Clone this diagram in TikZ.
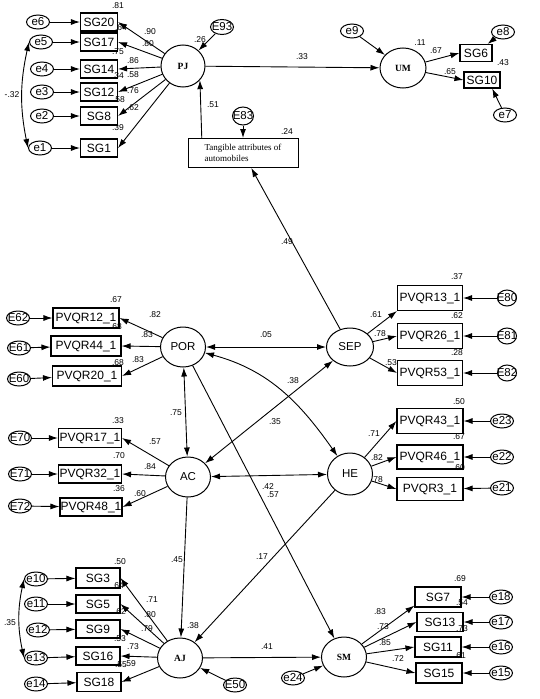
\documentclass[tikz,border=0pt]{standalone}
\usepackage{fontspec}
\setmainfont{Liberation Serif}
\setsansfont{Liberation Sans}
\usetikzlibrary{arrows.meta,shapes.geometric}

\begin{document}
\begin{tikzpicture}[x=1pt,y=-1pt]
\tikzset{obs/.style = {shape=rectangle,draw,line width=1.1pt,inner sep=0pt,
		minimum height=18pt,font=\sffamily\fontsize{12}{12}\selectfont}}
\tikzset{sg/.style = {obs,minimum width=37pt}}
\tikzset{pv/.style = {obs,minimum width=66pt,minimum height=20pt}}
\tikzset{lat/.style = {shape=ellipse,draw,line width=1pt,inner sep=0pt,
		minimum width=45pt,minimum height=40pt,font=\sffamily\fontsize{11.5}{12}\selectfont}}
\tikzset{latb/.style = {lat,font=\rmfamily\bfseries\fontsize{9.5}{10}\selectfont}}
\tikzset{err/.style = {shape=ellipse,draw,line width=1pt,inner xsep=-3pt,inner ysep=0pt,
		minimum width=23pt,minimum height=14pt,font=\sffamily\fontsize{11.5}{12}\selectfont}}
\tikzset{errc/.style = {err,inner xsep=-4pt,minimum width=19pt,minimum height=16pt}}
\tikzset{edge/.style = {->,> = {Latex[length=9pt,width=6pt]},line width=0.9pt}}
\tikzset{cov/.style = {edge,<->}}
\tikzset{coef/.style = {inner sep=0pt,font=\sffamily\fontsize{8.5}{9}\selectfont}}

\useasboundingbox (0,0) rectangle (540,699);

% vertices: PJ and UM
\node[latb,minimum width=44pt,minimum height=42pt] (PJ) at (183,66) {PJ};
\node[sg] (sg20) at (99,22) {SG20};
\node[sg] (sg17) at (99,42) {SG17};
\node[sg] (sg14) at (99,69) {SG14};
\node[sg] (sg12) at (99,92) {SG12};
\node[sg] (sg8) at (99,116) {SG8};
\node[sg] (sg1) at (99,148) {SG1};
\node[err] (e6) at (38,22) {e6};
\node[err] (e5) at (41,42) {e5};
\node[err] (e4) at (42,69) {e4};
\node[err] (e3) at (42,92) {e3};
\node[err] (e2) at (42,116) {e2};
\node[err] (e1) at (40,148) {e1};
\node[err,minimum height=15pt] (E93) at (222,27) {E93};
\node[latb,minimum width=46pt] (UM) at (403,68) {UM};
\node[err] (e9) at (352,31) {e9};
\node[obs,minimum width=32pt,minimum height=17pt] (sg6) at (476,53) {SG6};
\node[obs,minimum width=36pt,minimum height=16pt] (sg10) at (482,80) {SG10};
\node[err] (e8) at (503,32) {e8};
\node[err] (e7) at (505,115) {e7};
\node[obs,line width=1pt,minimum width=110pt,minimum height=29pt,align=left,
	font=\rmfamily\fontsize{9}{11}\selectfont] (tang) at (243,153)
	{Tangible attributes of\\automobiles};
\node[errc,minimum width=21pt,minimum height=18pt] (E83) at (243,116) {E83};

% vertices: POR, SEP, AC, HE
\node[lat] (POR) at (183,347) {POR};
\node[pv] (pv12) at (86,318) {PVQR12\_1};
\node[pv,minimum width=70pt] (pv44) at (86,346) {PVQR44\_1};
\node[pv,minimum width=69pt] (pv20) at (87,376) {PVQR20\_1};
\node[err] (E62) at (18,318) {E62};
\node[err] (E61) at (19,348) {E61};
\node[err] (E60) at (19,379) {E60};
\node[lat,minimum width=47pt,minimum height=38pt] (SEP) at (350,347) {SEP};
\node[pv,minimum width=65pt,minimum height=25pt] (pv13) at (430,298) {PVQR13\_1};
\node[pv,minimum width=65pt,minimum height=25pt] (pv26) at (430,336) {PVQR26\_1};
\node[pv,minimum width=65pt,minimum height=25pt] (pv53) at (430,373) {PVQR53\_1};
\node[errc] (E80) at (507,298) {E80};
\node[errc] (E81) at (507,336) {E81};
\node[errc] (E82) at (507,373) {E82};
\node[lat] (AC) at (188,477) {AC};
\node[pv,minimum width=63pt,minimum height=19pt] (pv17) at (90,438) {PVQR17\_1};
\node[pv,minimum width=63pt,minimum height=18pt] (pv32) at (90,474) {PVQR32\_1};
\node[pv,minimum width=62pt,minimum height=18pt] (pv48) at (91,507) {PVQR48\_1};
\node[err] (E70) at (20,438) {E70};
\node[err] (E71) at (20,474) {E71};
\node[err] (E72) at (20,506) {E72};
\node[lat,minimum height=42pt] (HE) at (350,474) {HE};
\node[pv,minimum height=25pt] (pv43) at (430,421) {PVQR43\_1};
\node[pv,minimum height=24pt] (pv46) at (430,457) {PVQR46\_1};
\node[pv,minimum height=23pt] (pv3) at (430,489) {PVQR3\_1};
\node[err] (e23) at (502,421) {e23};
\node[err] (e22) at (502,457) {e22};
\node[err] (e21) at (502,488) {e21};

% vertices: AJ and SM
\node[latb] (AJ) at (180,658) {AJ};
\node[sg,minimum width=44pt,minimum height=20pt] (sg3) at (98,578) {SG3};
\node[sg,minimum width=44pt] (sg5) at (98,604) {SG5};
\node[sg,minimum width=44pt] (sg9) at (98,629) {SG9};
\node[sg,minimum width=44pt] (sg16) at (98,656) {SG16};
\node[sg,minimum width=44pt,minimum height=19pt] (sg18) at (99,682) {SG18};
\node[err] (e10) at (36,579) {e10};
\node[err] (e11) at (36,604) {e11};
\node[err] (e12) at (38,630) {e12};
\node[err] (e13) at (36,658) {e13};
\node[err] (e14) at (36,684) {e14};
\node[err] (E50) at (235,685) {E50};
\node[latb] (SM) at (344,657) {SM};
\node[sg,minimum width=46pt,minimum height=20pt] (sg7) at (438,597) {SG7};
\node[sg,minimum width=46pt,minimum height=19pt] (sg13) at (440,622) {SG13};
\node[sg,minimum width=46pt,minimum height=20pt] (sg11) at (438,647) {SG11};
\node[sg,minimum width=46pt,minimum height=20pt] (sg15) at (439,673) {SG15};
\node[err] (e18) at (501,597) {e18};
\node[err] (e17) at (501,622) {e17};
\node[err] (e16) at (501,647) {e16};
\node[err] (e15) at (501,673) {e15};
\node[err] (e24) at (293,678) {e24};

% coefficients
\foreach \x/\y/\t [count=\i] in {118/6/.81, 121/28/.64, 150/32/.90, 148/44/.80, 118/52/.75,
	133/61/.86, 118/76/.34, 133/75/.58, 133/91/.76, 119/100/.58, 133/108/.62, 118/128/.39,
	12/95/-.32, 200/40/.26, 302/57/.33, 213/105/.51, 287/132/.24, 420/43/.11, 436/51/.67,
	503/63/.43, 450/72/.65, 287/242/.49,
	116/300/.67, 155/315/.82, 116/327/.68, 147/335/.83, 118/363/.68, 138/360/.83,
	457/277/.37, 376/315/.61, 457/316/.62, 380/334/.78, 457/353/.28, 391/363/.53,
	266/335/.05, 293/381/.38, 275/422/.35, 176/413/.75, 268/487/.42, 273/495/.57,
	262/557/.17, 177/560/.45,
	118/421/.33, 155/442/.57, 119/456/.70, 150/467/.84, 119/489/.36, 140/494/.60,
	459/402/.50, 374/434/.71, 459/437/.67, 377/458/.82, 459/468/.60, 377/480/.78,
	120/562/.50, 118/586/.64, 152/600/.71, 120/612/.62, 150/615/.80, 147/629/.79,
	120/639/.53, 133/647/.73, 121/665/.55, 130/664/.59, 193/626/.38, 10/623/.35, 267/647/.41,
	460/579/.69, 380/612/.83, 462/603/.54, 383/627/.73, 462/629/.73, 385/643/.85,
	460/656/.61, 398/659/.72}
	\node[coef] (c\i) at (\x,\y) {\t};

%edges
\draw[edge] (PJ) -- (sg20.east);
\draw[edge] (PJ) -- (sg17.east);
\draw[edge] (PJ) -- (sg14.east);
\draw[edge] (PJ) -- (sg12.east);
\draw[edge] (PJ) -- (sg8.east);
\draw[edge] (PJ) -- (sg1.east);
\draw[edge] (e6) -- (sg20);
\draw[edge] (e5) -- (sg17);
\draw[edge] (e4) -- (sg14);
\draw[edge] (e3) -- (sg12);
\draw[edge] (e2) -- (sg8);
\draw[edge] (e1) -- (sg1);
\draw[cov] (e5.west) to[bend right=12] (e1.west);
\draw[edge] (E93) -- (PJ);
\draw[edge] (PJ) -- (UM);
\draw[edge] (e9) -- (UM);
\draw[edge] (UM) -- (sg6.west);
\draw[edge] (UM) -- (sg10.west);
\draw[edge] (e8) -- (sg6);
\draw[edge] (e7) -- (sg10.-40);
\draw[edge] (E83) -- (tang);
\draw[edge] (tang.160) -- (PJ.-40);
\draw[edge] (SEP) -- (tang);

\draw[edge] (POR) -- (pv12.east);
\draw[edge] (POR) -- (pv44.east);
\draw[edge] (POR) -- (pv20.east);
\draw[edge] (E62) -- (pv12);
\draw[edge] (E61) -- (pv44);
\draw[edge] (E60) -- (pv20);
\draw[edge] (SEP) -- (pv13.south west);
\draw[edge] (SEP) -- (pv26.west);
\draw[edge] (SEP) -- (pv53.west);
\draw[edge] (E80) -- (pv13);
\draw[edge] (E81) -- (pv26);
\draw[edge] (E82) -- (pv53);
\draw[edge] (AC) -- (pv17.east);
\draw[edge] (AC) -- (pv32.east);
\draw[edge] (AC) -- (pv48.east);
\draw[edge] (E70) -- (pv17);
\draw[edge] (E71) -- (pv32);
\draw[edge] (E72) -- (pv48);
\draw[edge] (HE) -- (pv43.west);
\draw[edge] (HE) -- (pv46.west);
\draw[edge] (HE) -- (pv3.west);
\draw[edge] (e23) -- (pv43);
\draw[edge] (e22) -- (pv46);
\draw[edge] (e21) -- (pv3);

\draw[cov] (POR) -- (SEP);
\draw[cov] (POR) -- (AC);
\draw[cov] (AC) -- (SEP);
\draw[cov] (AC) -- (HE);
\draw[cov] (POR) to[out=-15,in=125] (HE);
\draw[edge] (POR) -- (SM);
\draw[edge] (AC) -- (AJ);
\draw[edge] (HE) -- (AJ);
\draw[edge] (AJ) -- (SM);
\draw[edge] (E50) -- (AJ);
\draw[edge] (e24) -- (SM);

\draw[edge] (AJ) -- (sg3.east);
\draw[edge] (AJ) -- (sg5.east);
\draw[edge] (AJ) -- (sg9.east);
\draw[edge] (AJ) -- (sg16.east);
\draw[edge] (AJ) -- (sg18.east);
\draw[edge] (e10) -- (sg3);
\draw[edge] (e11) -- (sg5);
\draw[edge] (e12) -- (sg9);
\draw[edge] (e13) -- (sg16);
\draw[edge] (e14) -- (sg18);
\draw[cov] (e10.west) to[bend right=12] (e13.west);
\draw[edge] (SM) -- (sg7.200);
\draw[edge] (SM) -- (sg13.west);
\draw[edge] (SM) -- (sg11.west);
\draw[edge] (SM) -- (sg15.west);
\draw[edge] (e18) -- (sg7);
\draw[edge] (e17) -- (sg13);
\draw[edge] (e16) -- (sg11);
\draw[edge] (e15) -- (sg15);
\end{tikzpicture}
\end{document}
